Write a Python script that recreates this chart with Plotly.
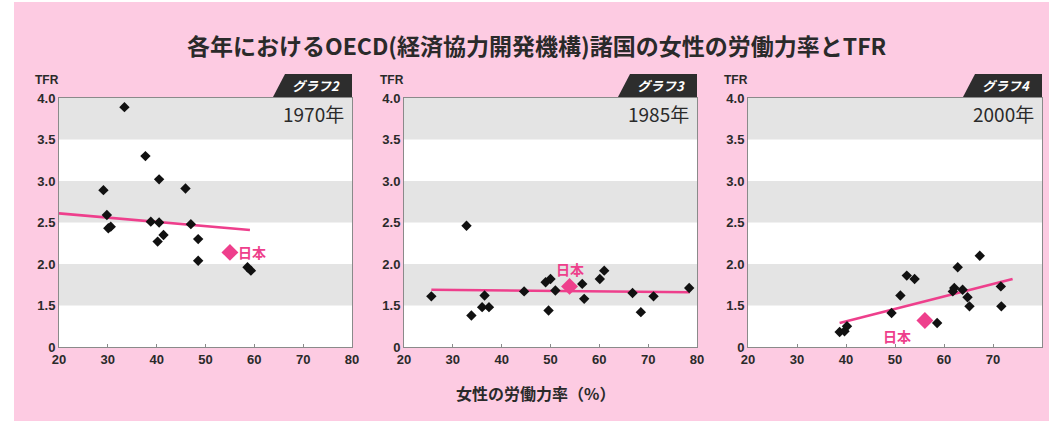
import plotly.graph_objects as go

W, H = 1049, 424

# ---------------- data ----------------
years = ["1970年", "1985年", "2000年"]
tabs = ["グラフ2", "グラフ3", "グラフ4"]

x1970 = [33.4, 29.1, 29.8, 30.1, 30.6, 37.7, 38.8, 40.5, 40.5, 40.2, 41.4, 45.9, 47.0, 48.5, 48.5, 58.6, 59.3]
y1970 = [3.89, 2.89, 2.59, 2.43, 2.45, 3.30, 2.51, 3.02, 2.50, 2.27, 2.35, 2.91, 2.48, 2.30, 2.04, 1.96, 1.92]
japan1970 = [55.0, 2.14]
trend_x1970 = [20.0, 59.1]
trend_y1970 = [2.61, 2.41]

x1985 = [25.6, 32.8, 33.8, 36.5, 36.0, 37.4, 44.6, 49.0, 50.0, 49.6, 51.0, 56.5, 56.9, 60.1, 61.0, 66.8, 68.5, 71.1, 78.4]
y1985 = [1.61, 2.46, 1.38, 1.62, 1.48, 1.48, 1.67, 1.78, 1.82, 1.44, 1.68, 1.76, 1.58, 1.82, 1.92, 1.65, 1.42, 1.61, 1.71]
japan1985 = [53.9, 1.73]
trend_x1985 = [25.6, 78.5]
trend_y1985 = [1.69, 1.66]

x2000 = [38.7, 39.7, 40.2, 49.3, 51.1, 52.4, 54.0, 58.6, 61.8, 62.1, 62.8, 63.8, 64.8, 65.2, 67.3, 71.6, 71.7]
y2000 = [1.18, 1.19, 1.25, 1.41, 1.62, 1.86, 1.82, 1.29, 1.67, 1.71, 1.96, 1.69, 1.60, 1.49, 2.10, 1.73, 1.49]
japan2000 = [56.1, 1.32]
trend_x2000 = [38.7, 74.0]
trend_y2000 = [1.29, 1.82]

x_ticks = [20, 30, 40, 50, 60, 70, 80]
y_tickvals = [1.0, 1.5, 2.0, 2.5, 3.0, 3.5, 4.0]
y_ticktext = ["0", "1.5", "2.0", "2.5", "3.0", "3.5", "4.0"]
band_lo = [1.5, 2.5, 3.5]
band_hi = [2.0, 3.0, 4.0]

japan_label = "日本"
title = "各年におけるOECD(経済協力開発機構)諸国の女性の労働力率とTFR"
x_title = "女性の労働力率（%）"

# ---------------- styles ----------------
PINK_BG = "#fdcbe2"
PINK = "#ee3f8c"
BAND = "#e4e4e4"
TXT = "#2a2a2a"
FONT = "Noto Sans CJK JP"

panels_px = [(59, 352), (404, 697), (748, 1042)]
top_px, bot_px = 98, 347

series = [
    (x1970, y1970, japan1970, trend_x1970, trend_y1970, dict(xshift=22, yshift=0)),
    (x1985, y1985, japan1985, trend_x1985, trend_y1985, dict(xshift=0, yshift=17)),
    (x2000, y2000, japan2000, trend_x2000, trend_y2000, dict(xshift=-28, yshift=-16)),
]

fig = go.Figure()
shapes = []
annotations = []

shapes.append(dict(type="rect", xref="paper", yref="paper",
                   x0=14 / W, x1=1.0, y0=1 - 421 / H, y1=1 - 2 / H,
                   fillcolor=PINK_BG, line=dict(width=0), layer="below"))

def ann(**kw):
    kw.setdefault("showarrow", False)
    kw.setdefault("yanchor", "middle")
    kw.setdefault("xanchor", "center")
    annotations.append(kw)

for i, ((l, r), (xs, ys, jp, tx, ty, lab)) in enumerate(zip(panels_px, series)):
    n = "" if i == 0 else str(i + 1)
    xa, ya = "x" + n, "y" + n
    fig.add_trace(go.Scatter(x=tx, y=ty, mode="lines", xaxis=xa, yaxis=ya,
                             line=dict(color=PINK, width=2.6), showlegend=False, hoverinfo="skip"))
    fig.add_trace(go.Scatter(x=xs, y=ys, mode="markers", xaxis=xa, yaxis=ya,
                             marker=dict(symbol="diamond", size=8, color="#111111"),
                             showlegend=False))
    fig.add_trace(go.Scatter(x=[jp[0]], y=[jp[1]], mode="markers", xaxis=xa, yaxis=ya,
                             marker=dict(symbol="diamond", size=13, color=PINK),
                             showlegend=False))
    dom = [l / W, r / W]
    fig.update_layout(**{
        ("xaxis" + n): dict(domain=dom, anchor=ya, range=[20, 80], tickvals=x_ticks,
                             automargin=False,
                             showgrid=False, zeroline=False, showline=True, mirror=True,
                             linecolor="#8a8a8a", linewidth=1, ticks="inside", ticklen=3,
                             tickcolor="#8a8a8a",
                             tickfont=dict(family="Liberation Sans", size=13, color=TXT, weight="bold")),
        ("yaxis" + n): dict(domain=[1 - bot_px / H, 1 - top_px / H], anchor=xa, range=[1.0, 4.0],
                             tickvals=y_tickvals, ticktext=y_ticktext, automargin=False,
                             showgrid=False, zeroline=False, showline=True, mirror=True,
                             linecolor="#8a8a8a", linewidth=1, ticks="",
                             tickfont=dict(family="Liberation Sans", size=13, color=TXT, weight="bold")),
    })
    shapes.append(dict(type="rect", xref=xa + " domain", yref=ya + " domain", x0=0, x1=1, y0=0, y1=1,
                       fillcolor="white", line=dict(width=0), layer="below"))
    for lo, hi in zip(band_lo, band_hi):
        shapes.append(dict(type="rect", xref=xa + " domain", yref=ya, x0=0, x1=1, y0=lo, y1=hi,
                           fillcolor=BAND, line=dict(width=0), layer="below"))
    # tab
    xl_b, xl_t, xr = (r - 79) / W, (r - 67) / W, r / W
    yb, yt = 1 - 97 / H, 1 - 74 / H
    shapes.append(dict(type="path", xref="paper", yref="paper",
                       path=f"M {xl_b} {yb} L {xl_t} {yt} L {xr} {yt} L {xr} {yb} Z",
                       fillcolor="#2d2d2d", line=dict(width=0)))
    ann(xref="paper", yref="paper", x=(r - 36) / W, y=1 - 85.5 / H,
        text="<b><i>" + tabs[i] + "</i></b>",
        font=dict(family=FONT, size=13, color="white"))
    ann(xref=xa + " domain", yref="paper", x=1, y=1 - 113 / H,
        xanchor="right", xshift=-6, text=years[i],
        font=dict(family=FONT, size=19, color=TXT))
    ann(xref="paper", yref="paper", x=(l - 12) / W, y=1 - 80 / H,
        text="<b>TFR</b>", font=dict(family="Liberation Sans", size=12, color=TXT))
    ann(xref=xa, yref=ya, x=jp[0], y=jp[1], text="<b>" + japan_label + "</b>",
        font=dict(family=FONT, size=14, color=PINK), **lab)

ann(xref="paper", yref="paper", x=537 / W, y=1 - 45 / H, text="<b>" + title + "</b>",
    font=dict(family=FONT, size=23, color=TXT))
ann(xref="paper", yref="paper", x=535 / W, y=1 - 393 / H, text="<b>" + x_title + "</b>",
    font=dict(family=FONT, size=16, color=TXT))

fig.update_layout(width=W, height=H, margin=dict(l=0, r=0, t=0, b=0),
                  paper_bgcolor="white", plot_bgcolor="white",
                  shapes=shapes, annotations=annotations, showlegend=False)

fig.write_html("out.html")
